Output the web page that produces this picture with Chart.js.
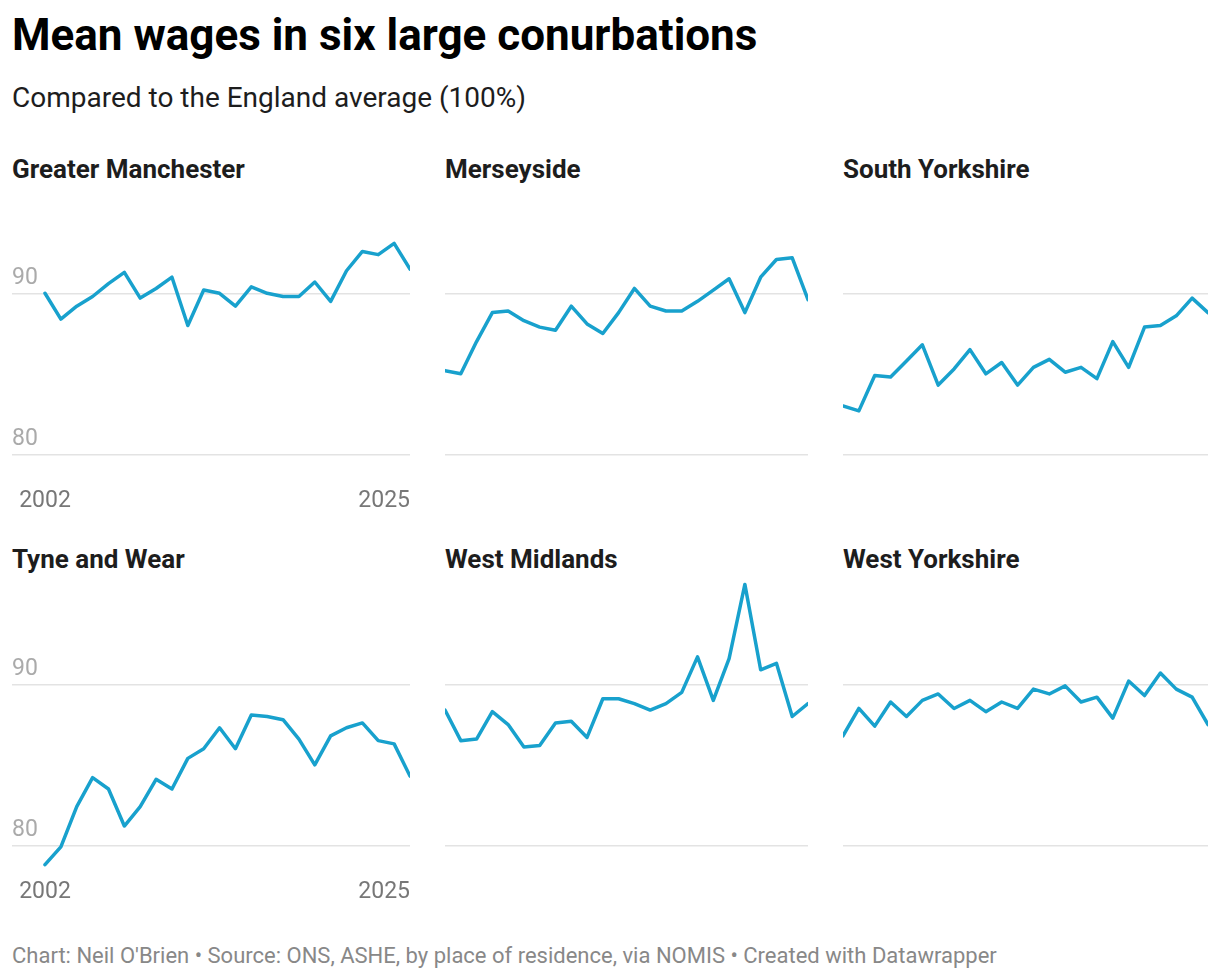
<!DOCTYPE html>
<html>
<head>
<meta charset="utf-8">
<title>Mean wages in six large conurbations</title>
<script src="https://cdn.jsdelivr.net/npm/chart.js@4.4.1/dist/chart.umd.min.js"></script>
<style>
  body { margin: 0; background: #fff; font-family: Roboto, "Noto Sans", sans-serif; }
  #page { position: relative; width: 1220px; height: 980px; overflow: hidden; }
  .txt { position: absolute; left: 12px; line-height: 1; white-space: nowrap; }
  .title { top: 13px; font-size: 44px; font-weight: 700; color: #000; }
  .subtitle { top: 83.5px; font-size: 28px; color: #1d1d1d; }
  .panel-title { font-size: 26px; font-weight: 700; color: #1d1d1d; }
  .footer { top: 945px; font-size: 22px; color: #888; }
  canvas { position: absolute; }
</style>
</head>
<body>
<div id="page">
  <div class="txt title">Mean wages in six large conurbations</div>
  <div class="txt subtitle">Compared to the England average (100%)</div>
  <div class="txt footer">Chart: Neil O'Brien • Source: ONS, ASHE, by place of residence, via NOMIS • Created with Datawrapper</div>
</div>
<script>
// data (% of England average)
const years = [2002, 2003, 2004, 2005, 2006, 2007, 2008, 2009, 2010, 2011, 2012, 2013,
               2014, 2015, 2016, 2017, 2018, 2019, 2020, 2021, 2022, 2023, 2024, 2025];
const greaterManchester = [90.0, 88.4, 89.2, 89.8, 90.6, 91.3, 89.7, 90.3, 91.0, 88.0, 90.2, 90.0,
                           89.2, 90.4, 90.0, 89.8, 89.8, 90.7, 89.5, 91.4, 92.6, 92.4, 93.1, 91.5];
const merseyside = [85.2, 85.0, 87.0, 88.8, 88.9, 88.3, 87.9, 87.7, 89.2, 88.1, 87.5, 88.8,
                    90.3, 89.2, 88.9, 88.9, 89.5, 90.2, 90.9, 88.8, 91.0, 92.1, 92.2, 89.6];
const southYorkshire = [83.0, 82.7, 84.9, 84.8, 85.8, 86.8, 84.3, 85.3, 86.5, 85.0, 85.7, 84.3,
                        85.4, 85.9, 85.1, 85.4, 84.7, 87.0, 85.4, 87.9, 88.0, 88.6, 89.7, 88.8];
const tyneAndWear = [78.8, 79.9, 82.4, 84.2, 83.5, 81.2, 82.4, 84.1, 83.5, 85.4, 86.0, 87.3,
                     86.0, 88.1, 88.0, 87.8, 86.6, 85.0, 86.8, 87.3, 87.6, 86.5, 86.3, 84.3];
const westMidlands = [88.4, 86.5, 86.6, 88.3, 87.5, 86.1, 86.2, 87.6, 87.7, 86.7, 89.1, 89.1,
                      88.8, 88.4, 88.8, 89.5, 91.7, 89.0, 91.6, 96.2, 90.9, 91.3, 88.0, 88.8];
const westYorkshire = [86.8, 88.5, 87.4, 88.9, 88.0, 89.0, 89.4, 88.5, 89.0, 88.3, 88.9, 88.5,
                       89.7, 89.4, 89.9, 88.9, 89.2, 87.9, 90.2, 89.3, 90.7, 89.7, 89.2, 87.5];
const yTicks = [80, 90];
const xLabels = ['2002', '2025'];

const panelNames = ['Greater Manchester', 'Merseyside', 'South Yorkshire',
                    'Tyne and Wear', 'West Midlands', 'West Yorkshire'];
const panelSeries = [greaterManchester, merseyside, southYorkshire,
                     tyneAndWear, westMidlands, westYorkshire];

// layout
const cols = [
  { gridLeft: 12, width: 398, dataLeft: 45 },
  { gridLeft: 445, width: 363, dataLeft: 445 },
  { gridLeft: 843, width: 365, dataLeft: 843 }
];
const rowTops = [170, 560.5];
const canvasH = 350, padTop = 18.6, padBottom = 41.5, side = 3;

// year labels under the left-hand panels, first centred, last flush right
const yearLabels = {
  id: 'yearLabels',
  afterDraw(chart, args, opts) {
    if (!opts.show) return;
    const xs = chart.scales.x, ctx = chart.ctx;
    const y = chart.chartArea.bottom + 22.5;
    ctx.save();
    ctx.font = '23px Roboto';
    ctx.fillStyle = '#777';
    ctx.textBaseline = 'middle';
    ctx.textAlign = 'center';
    ctx.fillText(xLabels[0], xs.getPixelForValue(years[0]), y);
    ctx.textAlign = 'right';
    ctx.fillText(xLabels[1], xs.getPixelForValue(years[years.length - 1]), y);
    ctx.restore();
  }
};

const page = document.getElementById('page');

panelSeries.forEach((series, i) => {
  const col = cols[i % 3];
  const top = rowTops[Math.floor(i / 3)];
  const isLeft = i % 3 === 0;

  const title = document.createElement('div');
  title.className = 'txt panel-title';
  title.style.left = col.gridLeft + 'px';
  title.style.top = (top - 14.2) + 'px';
  title.textContent = panelNames[i];
  page.appendChild(title);

  const canvas = document.createElement('canvas');
  canvas.width = col.width + side * 2;
  canvas.height = canvasH;
  canvas.style.left = (col.gridLeft - side) + 'px';
  canvas.style.top = top + 'px';
  page.appendChild(canvas);

  // leave room for the y labels in the left column
  const inset = col.dataLeft - col.gridLeft;
  const span = years[years.length - 1] - years[0];
  const xMin = years[0] - inset * span / (col.width - inset);

  new Chart(canvas, {
    type: 'line',
    data: {
      datasets: [{
        data: years.map((yr, k) => ({ x: yr, y: series[k] })),
        borderColor: '#18a1cd',
        borderWidth: 3.5,
        borderJoinStyle: 'round',
        borderCapStyle: 'round',
        pointRadius: 0,
        tension: 0,
        fill: false
      }]
    },
    options: {
      responsive: false,
      animation: false,
      events: [],
      layout: { padding: { top: padTop, bottom: padBottom, left: side, right: side } },
      plugins: {
        legend: { display: false },
        tooltip: { enabled: false },
        yearLabels: { show: isLeft }
      },
      scales: {
        x: {
          type: 'linear',
          min: xMin,
          max: years[years.length - 1],
          display: false
        },
        y: {
          min: 78.5,
          max: 96.5,
          afterBuildTicks: s => { s.ticks = yTicks.map(v => ({ value: v })); },
          border: { display: false },
          grid: { color: '#e3e3e3', lineWidth: 1.5, drawTicks: false },
          ticks: {
            display: isLeft,
            mirror: true,
            padding: 0,
            labelOffset: -15.5,
            color: '#aaa',
            font: { family: 'Roboto', size: 23 }
          }
        }
      }
    },
    plugins: [yearLabels]
  });
});
</script>
</body>
</html>
